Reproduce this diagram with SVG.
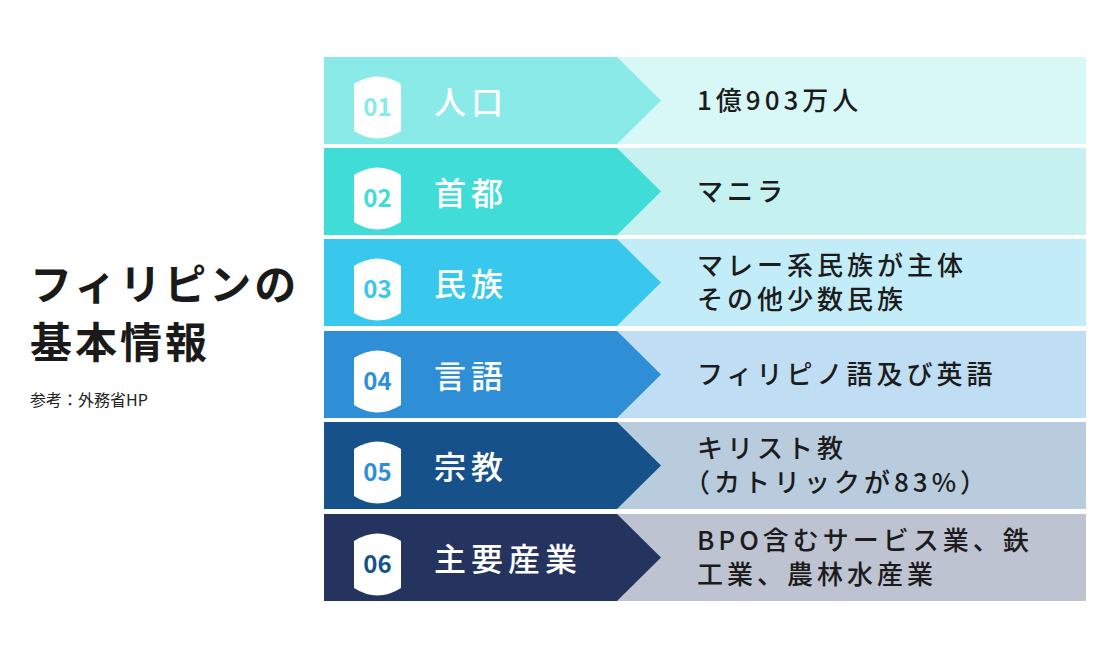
<svg xmlns="http://www.w3.org/2000/svg" width="1100" height="660" viewBox="0 0 1100 660">
<style>
.t{font-family:"Noto Sans CJK JP","Noto Sans",sans-serif}
.lab{font-size:32px;fill:#fff;font-weight:500;letter-spacing:5px}
.num{font-size:24px;font-weight:700;text-anchor:middle}
.val{font-size:26px;fill:#1c1c1c;font-weight:500;letter-spacing:4px}
</style>
<defs>
<path id="badge" d="M354,84 Q377.5,69 401,84 L401,131 Q377.5,146 354,131 Z" fill="#fff"/>
</defs>
<rect width="1100" height="660" fill="#fff"/>
<g id="title" class="t">
<text x="30" y="300" font-size="42" font-weight="700" fill="#1a1a1a" letter-spacing="3">フィリピンの</text>
<text x="30" y="358" font-size="42" font-weight="700" fill="#1a1a1a" letter-spacing="3">基本情報</text>
<text x="30" y="406" font-size="16" fill="#222">参考：外務省HP</text>
</g>
<g id="row1" class="t">
<rect x="324" y="57" width="762" height="87" fill="#D8F7F7"/>
<path d="M324,57 H617 L661,100.5 L617,144 H324 Z" fill="#8AEAE8"/>
<use href="#badge"/>
<text class="num" x="377.5" y="116" fill="#8AEAE8">01</text>
<text class="lab" x="434" y="114">人口</text>
<text class="val" x="697" y="110">1億903万人</text>
</g>
<g id="row2" class="t" transform="translate(0,91)">
<rect x="324" y="57" width="762" height="87" fill="#C5F2F0"/>
<path d="M324,57 H617 L661,100.5 L617,144 H324 Z" fill="#40DCD8"/>
<use href="#badge"/>
<text class="num" x="377.5" y="116" fill="#40DCD8">02</text>
<text class="lab" x="434" y="114">首都</text>
<text class="val" x="697" y="110">マニラ</text>
</g>
<g id="row3" class="t" transform="translate(0,182)">
<rect x="324" y="57" width="762" height="87" fill="#C3ECF9"/>
<path d="M324,57 H617 L661,100.5 L617,144 H324 Z" fill="#38C8EE"/>
<use href="#badge"/>
<text class="num" x="377.5" y="116" fill="#38C8EE">03</text>
<text class="lab" x="434" y="114">民族</text>
<text class="val" x="697" y="93">マレー系民族が主体</text>
<text class="val" x="697" y="127">その他少数民族</text>
</g>
<g id="row4" class="t" transform="translate(0,274)">
<rect x="324" y="57" width="762" height="87" fill="#BFDDF3"/>
<path d="M324,57 H617 L661,100.5 L617,144 H324 Z" fill="#2E8FD6"/>
<use href="#badge"/>
<text class="num" x="377.5" y="116" fill="#2E8FD6">04</text>
<text class="lab" x="434" y="114">言語</text>
<text class="val" x="697" y="110">フィリピノ語及び英語</text>
</g>
<g id="row5" class="t" transform="translate(0,365)">
<rect x="324" y="57" width="762" height="87" fill="#B8CCDE"/>
<path d="M324,57 H617 L661,100.5 L617,144 H324 Z" fill="#165289"/>
<use href="#badge"/>
<text class="num" x="377.5" y="116" fill="#2E8FD6">05</text>
<text class="lab" x="434" y="114">宗教</text>
<text class="val" x="697" y="93">キリスト教</text>
<text class="val" x="684" y="127">（カトリックが83%）</text>
</g>
<g id="row6" class="t" transform="translate(0,457)">
<rect x="324" y="57" width="762" height="87" fill="#BDC3D1"/>
<path d="M324,57 H617 L661,100.5 L617,144 H324 Z" fill="#24345E"/>
<use href="#badge"/>
<text class="num" x="377.5" y="116" fill="#165289">06</text>
<text class="lab" x="434" y="114">主要産業</text>
<text class="val" x="697" y="93">BPO含むサービス業、鉄</text>
<text class="val" x="697" y="127">工業、農林水産業</text>
</g>
<g id="connectors"/>
</svg>
